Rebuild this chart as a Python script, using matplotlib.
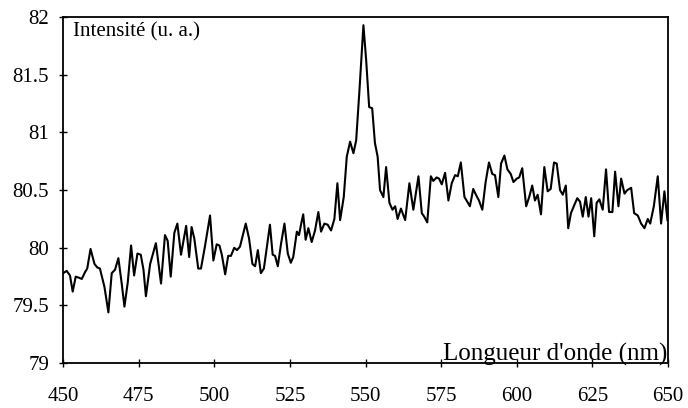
import matplotlib
matplotlib.use("Agg")
import matplotlib.pyplot as plt

# spectrum
wavelength = [
    450.1, 451.2, 452.3, 453.2, 454.2, 455.3, 456.2, 457.3, 458.0, 459.1,
    460.4, 461.3, 462.2, 463.7, 465.0, 466.1, 467.2, 468.3, 469.4, 470.3,
    471.4, 472.5, 473.5, 474.6, 475.7, 476.6, 477.4, 478.8, 480.7, 482.4,
    483.7, 484.6, 485.6, 486.8, 487.8, 489.0, 490.7, 491.7, 492.5, 493.4,
    494.7, 495.6, 496.9, 498.6, 499.7, 500.8, 501.7, 502.5, 503.6, 504.6,
    505.5, 506.6, 507.5, 508.5, 510.4, 511.5, 512.6, 513.5, 514.4, 515.4,
    516.4, 518.4, 519.3, 520.1, 521.0, 522.1, 523.2, 524.3, 525.3, 526.1,
    527.3, 528.0, 528.9, 529.4, 530.2, 531.1, 532.2, 533.3, 534.4, 535.3,
    536.4, 537.5, 538.6, 539.7, 540.7, 541.6, 542.8, 543.8, 544.9, 546.0,
    546.9, 548.0, 549.3, 550.2, 551.2, 552.2, 553.1, 554.0, 554.8, 555.9,
    556.8, 557.9, 558.9, 559.8, 560.6, 561.7, 563.1, 564.5, 565.8, 567.5,
    568.6, 569.4, 570.4, 571.6, 572.4, 573.5, 574.3, 575.2, 576.3, 577.4,
    578.5, 579.6, 580.5, 581.5, 582.7, 583.4, 584.5, 585.6, 586.5, 587.5,
    588.6, 589.7, 590.8, 591.9, 592.8, 593.9, 594.8, 595.9, 596.9, 598.0,
    598.9, 600.0, 600.8, 601.8, 603.1, 604.1, 605.1, 606.0, 606.9, 608.0,
    609.1, 610.2, 611.2, 612.3, 613.2, 614.3, 615.2, 616.2, 617.0, 617.9,
    619.0, 620.0, 620.9, 621.8, 622.8, 623.7, 624.6, 625.6, 626.4, 627.3,
    628.4, 629.5, 630.5, 631.6, 632.5, 633.6, 634.5, 635.6, 636.5, 637.8,
    638.8, 640.0, 641.1, 642.2, 643.3, 644.1, 645.3, 646.6, 647.7, 648.8,
    649.8,
]
intensity = [
    79.78, 79.80, 79.76, 79.62, 79.75, 79.74, 79.73, 79.79, 79.82, 79.99,
    79.86, 79.83, 79.82, 79.66, 79.44, 79.78, 79.81, 79.91, 79.69, 79.49,
    79.70, 80.02, 79.76, 79.95, 79.94, 79.81, 79.58, 79.86, 80.04, 79.69,
    80.11, 80.06, 79.75, 80.13, 80.21, 79.94, 80.19, 79.92, 80.18, 80.08,
    79.82, 79.82, 80.01, 80.28, 79.89, 80.03, 80.02, 79.94, 79.77, 79.93,
    79.93, 80.00, 79.98, 80.01, 80.21, 80.08, 79.86, 79.84, 79.98, 79.78,
    79.82, 80.20, 79.94, 79.93, 79.84, 80.04, 80.21, 79.95, 79.87, 79.92,
    80.14, 80.11, 80.23, 80.29, 80.07, 80.17, 80.05, 80.15, 80.31, 80.14,
    80.21, 80.20, 80.15, 80.25, 80.56, 80.24, 80.44, 80.79, 80.92, 80.82,
    80.93, 81.37, 81.93, 81.63, 81.22, 81.21, 80.91, 80.79, 80.50, 80.44,
    80.70, 80.39, 80.33, 80.36, 80.25, 80.34, 80.24, 80.56, 80.33, 80.62,
    80.30, 80.27, 80.22, 80.62, 80.58, 80.61, 80.60, 80.55, 80.65, 80.41,
    80.56, 80.63, 80.62, 80.74, 80.44, 80.41, 80.36, 80.51, 80.46, 80.41,
    80.33, 80.57, 80.74, 80.64, 80.63, 80.44, 80.73, 80.80, 80.68, 80.64,
    80.57, 80.60, 80.61, 80.69, 80.36, 80.44, 80.54, 80.41, 80.46, 80.29,
    80.70, 80.49, 80.51, 80.74, 80.73, 80.50, 80.46, 80.54, 80.17, 80.30,
    80.37, 80.43, 80.40, 80.27, 80.44, 80.27, 80.43, 80.10, 80.39, 80.42,
    80.33, 80.68, 80.31, 80.31, 80.66, 80.36, 80.60, 80.47, 80.50, 80.52,
    80.30, 80.28, 80.21, 80.17, 80.25, 80.21, 80.36, 80.62, 80.21, 80.49,
    80.24,
]

x_ticks = [450, 475, 500, 525, 550, 575, 600, 625, 650]
y_ticks = [79, 79.5, 80, 80.5, 81, 81.5, 82]
y_ticklabels = ["79", "79.5", "80", "80.5", "81", "81.5", "82"]

plt.rcParams['font.family'] = ['Liberation Serif', 'DejaVu Serif']

fig = plt.figure(figsize=(6.88, 4.08), dpi=100)
ax = fig.add_axes([0.0916, 0.110, 0.8794, 0.848])

ax.plot(wavelength, intensity, color='black', linewidth=1.5)

ax.set_xlim(450, 650)
ax.set_ylim(79, 82)
ax.set_xticks(x_ticks)
ax.set_yticks(y_ticks)
ax.set_yticklabels(y_ticklabels)
ax.tick_params(direction='inout', length=6, width=1, labelsize=15)
ax.tick_params(axis='x', pad=14)
ax.tick_params(axis='y', pad=7)

for s in ax.spines.values():
    s.set_linewidth(1.3)

ax.text(0.016, 0.985, "Intensité (u. a.)", transform=ax.transAxes,
        ha='left', va='top', fontsize=15)
ax.text(0.999, 0.008, "Longueur d'onde (nm)", transform=ax.transAxes,
        ha='right', va='baseline', fontsize=18)

fig.savefig("out.png", dpi=100)
